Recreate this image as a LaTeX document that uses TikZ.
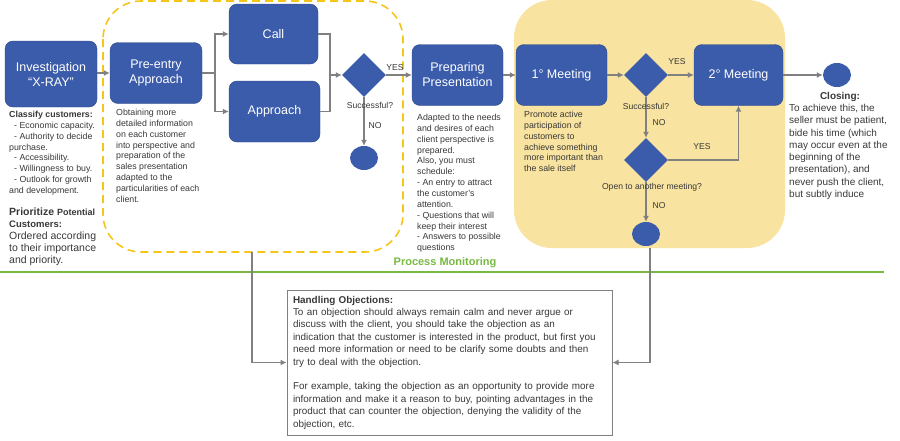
\documentclass[tikz,border=0pt]{standalone}
\usepackage{fontspec}
\setmainfont{Liberation Sans}
\usetikzlibrary{shapes.geometric,arrows.meta}

\definecolor{boxblue}{HTML}{3B5CAA}
\definecolor{dashyellow}{HTML}{F5C518}
\definecolor{meetyellow}{HTML}{F8E3A0}
\definecolor{linegray}{HTML}{808080}
\definecolor{txtgray}{HTML}{383838}
\definecolor{monigreen}{HTML}{78B843}

\tikzset{
  stage/.style={fill=boxblue, draw=boxblue!80!black, rounded corners=8pt, text=white,
    align=center, inner sep=2pt, font=\fontsize{12.5}{15}\selectfont},
  decision/.style={diamond, fill=boxblue, minimum width=44pt, minimum height=44pt, inner sep=0pt},
  stopnode/.style={ellipse, fill=boxblue, minimum width=28pt, minimum height=24pt, inner sep=0pt},
  note/.style={anchor=north west, align=left, inner sep=0pt, text=txtgray,
    font=\fontsize{8.8}{10.85}\selectfont},
  tag/.style={text=txtgray, inner sep=1pt, font=\fontsize{8.6}{10}\selectfont},
  conn/.style={draw=linegray, line width=1.3pt, -{Latex[length=6pt,width=6pt]}},
  plain/.style={draw=linegray, line width=1.3pt}
}

\begin{document}
\begin{tikzpicture}[x=1pt,y=-1pt]
\useasboundingbox (0,0) rectangle (900,440);

% Background areas
\fill[meetyellow, rounded corners=38pt] (514,0) rectangle (785,248);
\draw[dashyellow, line width=1.6pt, dash pattern=on 8pt off 5pt, rounded corners=38pt]
  (103,1) rectangle (403,252);

% Stages
\node[stage, minimum width=92pt, minimum height=66pt] (xray) at (51,74) {Investigation\\“X-RAY”};
\node[stage, minimum width=92pt, minimum height=61pt] (preentry) at (156,73) {Pre-entry\\Approach};
\node[stage, minimum width=89pt, minimum height=60pt] (call) at (273.5,34) {Call};
\node[stage, minimum width=91pt, minimum height=61pt] (approach) at (274.5,111.5) {Approach};
\node[decision] (succ1) at (364,75) {};
\node[stopnode] (stop1) at (364,158) {};
\node[stage, minimum width=91pt, minimum height=61pt] (prep) at (457.5,75) {Preparing\\Presentation};
\node[stage, minimum width=91pt, minimum height=61pt] (meet1) at (561.5,75) {1° Meeting};
\node[decision] (succ2) at (646,75) {};
\node[stage, minimum width=89pt, minimum height=61pt] (meet2) at (738.5,75) {2° Meeting};
\node[decision] (another) at (646,160) {};
\node[stopnode] (stop2) at (646,234) {};
\node[stopnode] (closing) at (837,75) {};

% Connectors
\coordinate (split) at (215,73);
\coordinate (join) at (330,75);
\draw[conn] (xray.east |- preentry.west) -- (preentry.west);
\draw[plain] (preentry.east) -- (split);
\draw[conn] (split) |- (call.west);
\draw[conn] (split) |- (approach.west);
\draw[plain] (call.east) -| (join);
\draw[plain] (approach.east) -| (join);
\draw[conn] (join) -- (succ1.west);
\draw[conn] (succ1.east) -- (prep.west);
\draw[conn] (succ1.south) -- (stop1.north);
\draw[conn] (prep.east) -- (meet1.west);
\draw[conn] (meet1.east) -- (succ2.west);
\draw[conn] (succ2.east) -- (meet2.west);
\draw[conn] (succ2.south) -- (another.north);
\draw[conn] (another.east) -| (meet2.south);
\draw[conn] (another.south) -- (stop2.north);
\draw[conn] (meet2.east) -- (closing.west);

% Decision labels
\node[tag] (yes1) at (395,68) {YES};
\node[tag] (ask1) at (370,105) {Successful?};
\node[tag] (no1) at (375,126) {NO};
\node[tag] (yes2) at (677,62) {YES};
\node[tag] (ask2) at (646,106) {Successful?};
\node[tag] (no2) at (659,123) {NO};
\node[tag] (yes3) at (702,147) {YES};
\node[tag] (ask3) at (652,187) {Open to another meeting?};
\node[tag] (no3) at (659,206) {NO};

% Notes under the stages
\node[note] (classify) at (9,111) {\textbf{Classify customers:}\\
  \hspace*{5pt}- Economic capacity.\\
  \hspace*{5pt}- Authority to decide\\
  purchase.\\
  \hspace*{5pt}- Accessibility.\\
  \hspace*{5pt}- Willingness to buy.\\
  \hspace*{5pt}- Outlook for growth\\
  and development.};
\node[note, font=\fontsize{10.5}{11.8}\selectfont] (prioritize) at (9,208)
  {\textbf{Prioritize} {\fontsize{9}{11.8}\selectfont\textbf{Potential}}\\
  {\fontsize{9.5}{11.8}\selectfont\textbf{Customers:}}\\
  Ordered according\\ to their importance\\ and priority.};
\node[note] (preinfo) at (116,109) {Obtaining more\\ detailed information\\
  on each customer\\ into perspective and\\ preparation of the\\
  sales presentation\\ adapted to the\\ particularities of each\\ client.};
\node[note] (prepinfo) at (417,114) {Adapted to the needs\\ and desires of each\\
  client perspective is\\ prepared.\\ Also, you must\\ schedule:\\
  - An entry to attract\\ the customer's\\ attention.\\
  - Questions that will\\ keep their interest\\ - Answers to possible\\ questions};
\node[note] (meetinfo) at (524,111) {Promote active\\ participation of\\
  customers to\\ achieve something\\ more important than\\ the sale itself};

% Closing
\node[text=txtgray, font=\fontsize{10}{12}\bfseries] (closetitle) at (840,97) {Closing:};
\node[note, font=\fontsize{10}{12.3}\selectfont] (closeinfo) at (789,104)
  {To achieve this, the\\ seller must be patient,\\ bide his time (which\\
  may occur even at the\\ beginning of the\\ presentation), and\\
  never push the client,\\ but subtly induce};

% Process monitoring
\draw[monigreen, line width=2.5pt] (0,272) -- (884,272);
\node[text=monigreen, font=\fontsize{11}{13}\bfseries] (monitor) at (445,263) {Process Monitoring};

\node[draw=linegray, line width=1pt, text=txtgray, align=left, text width=313pt,
  inner xsep=6pt, minimum height=145pt, font=\fontsize{9.9}{12.4}\selectfont]
  (objections) at (449.5,362.5)
  {\textbf{Handling Objections:}\\
  To an objection should always remain calm and never argue or\\
  discuss with the client, you should take the objection as an\\
  indication that the customer is interested in the product, but first you\\
  need more information or need to be clarify some doubts and then\\
  try to deal with the objection.\\[12.4pt]
  For example, taking the objection as an opportunity to provide more\\
  information and make it a reason to buy, pointing advantages in the\\
  product that can counter the objection, denying the validity of the\\
  objection, etc.};

\coordinate (mon1) at (252,252);
\coordinate (mon2) at (650,248);
\draw[conn] (mon1) |- (objections.west);
\draw[conn] (mon2) |- (objections.east);
\end{tikzpicture}
\end{document}
